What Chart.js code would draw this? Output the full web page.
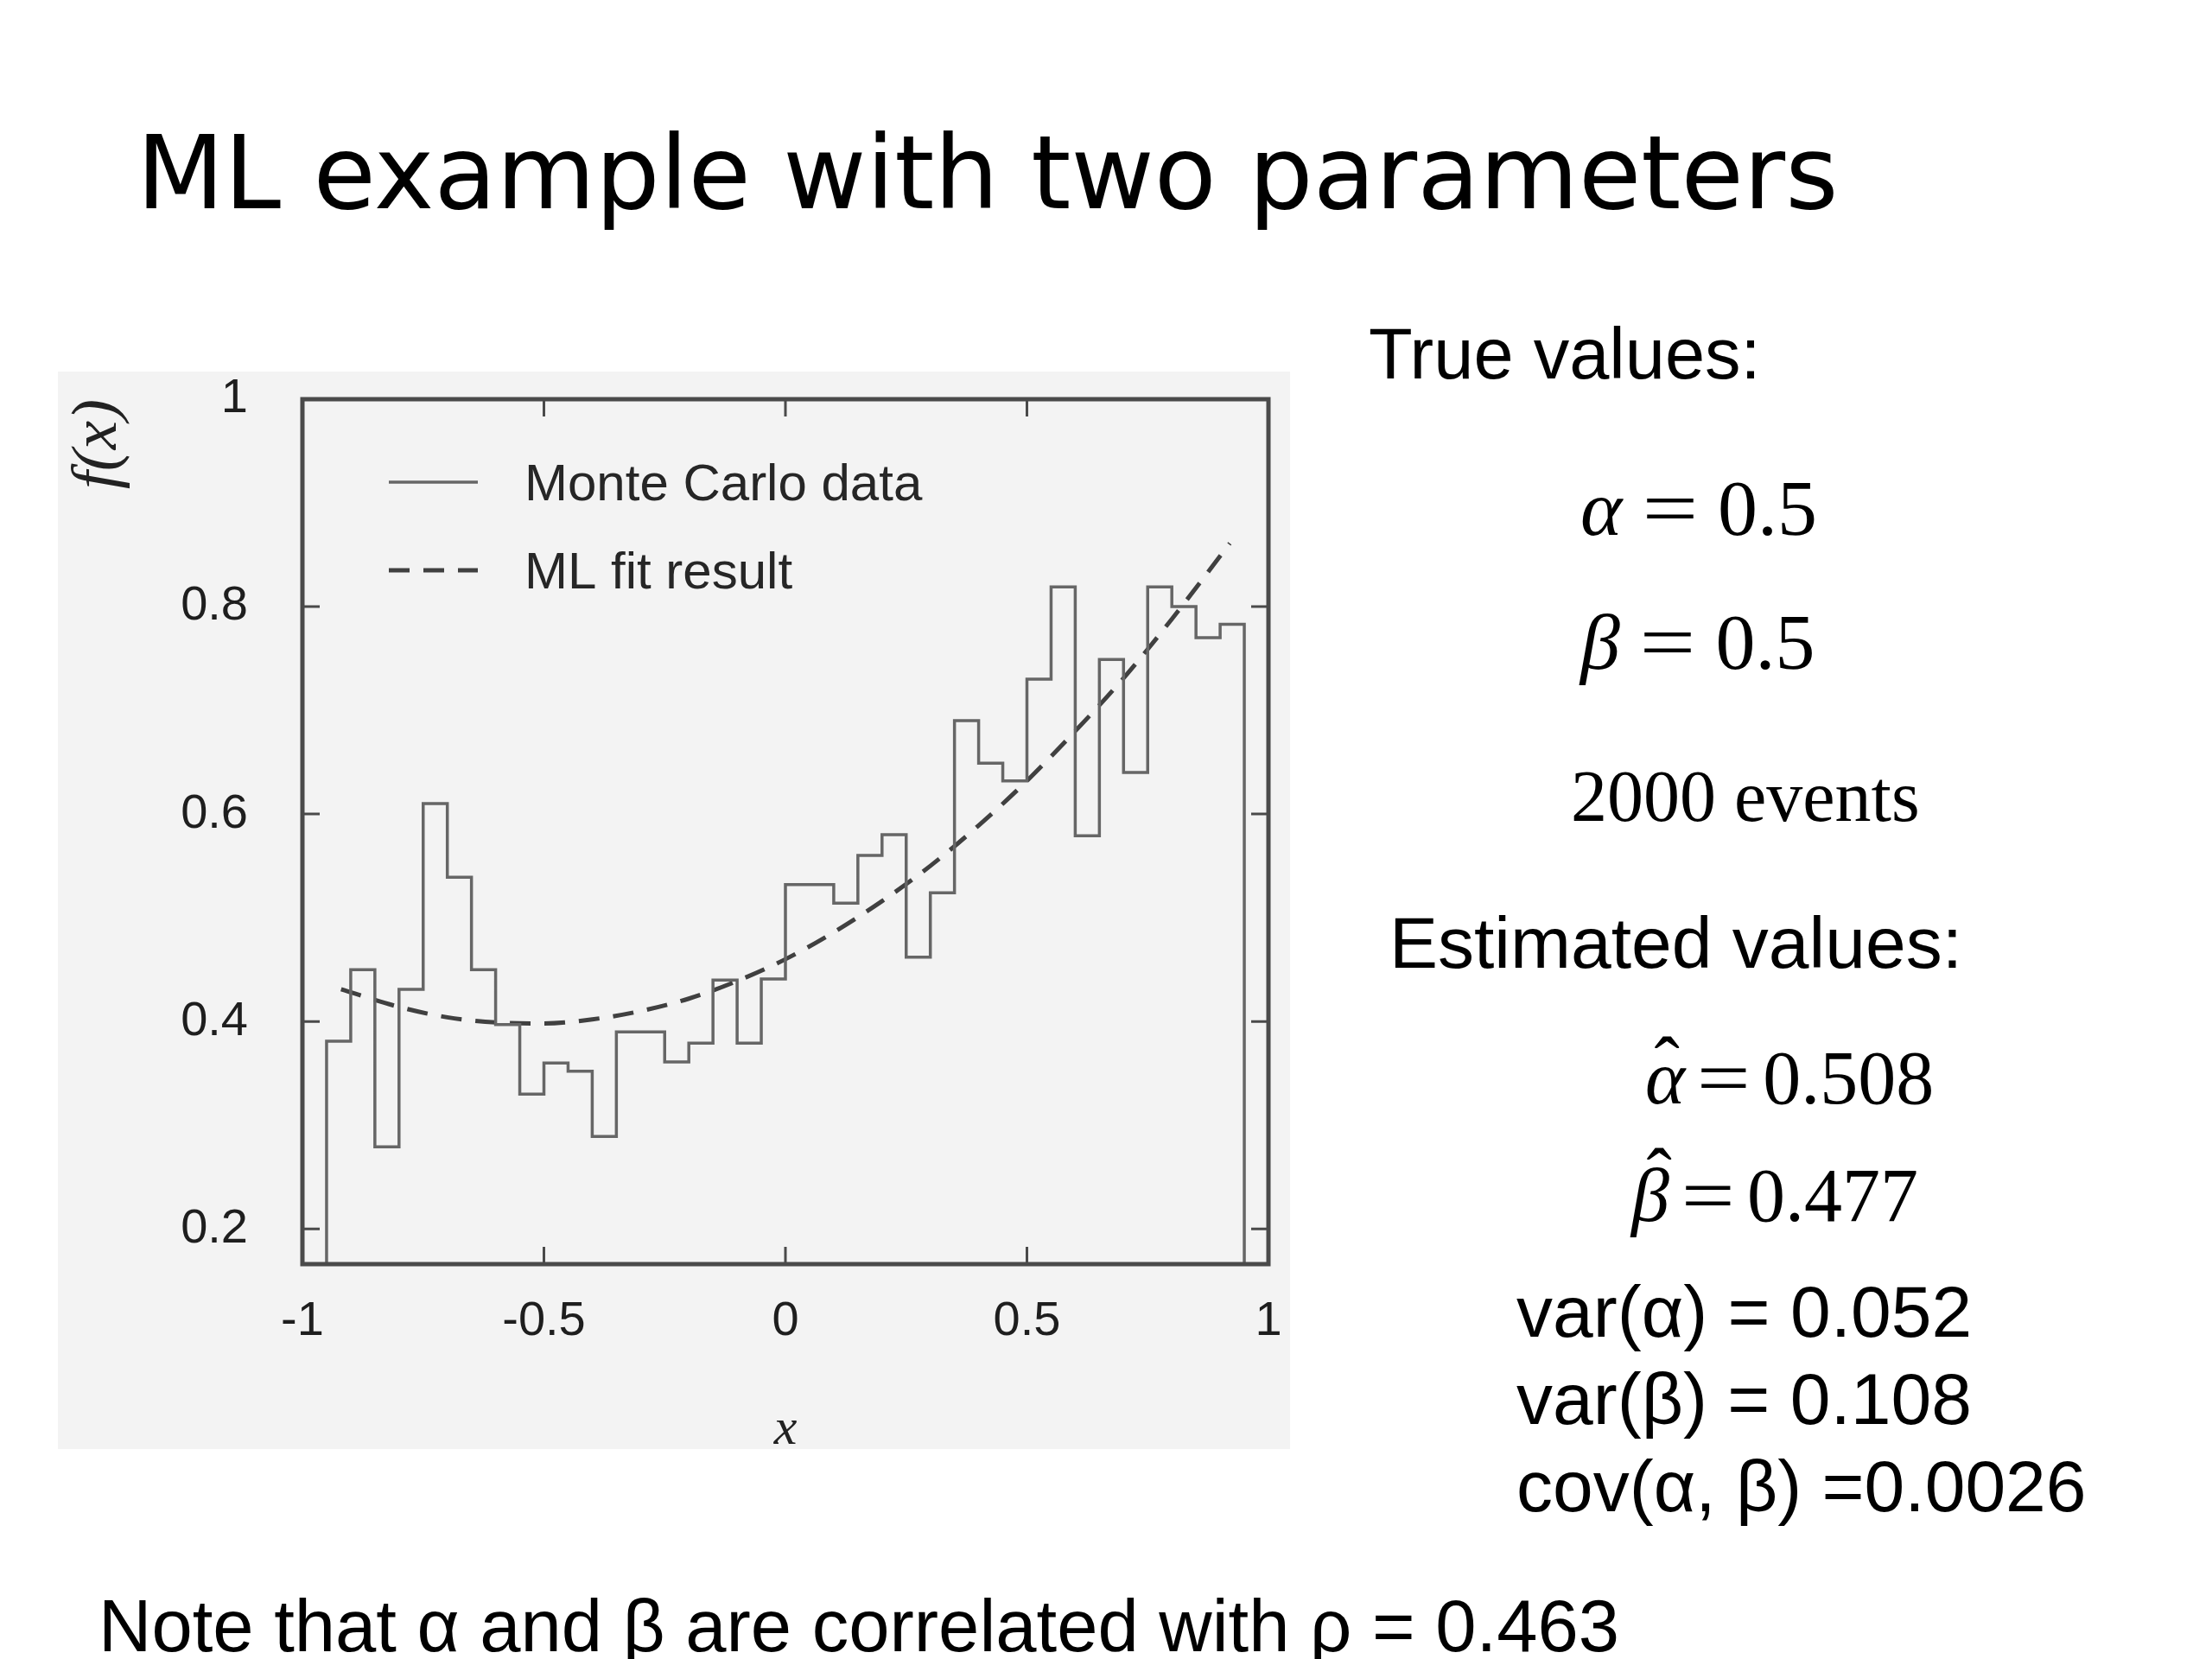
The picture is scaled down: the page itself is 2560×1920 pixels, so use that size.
<!DOCTYPE html>
<html>
<head>
<meta charset="utf-8">
<script src="https://cdn.jsdelivr.net/npm/chart.js@4.4.1/dist/chart.umd.min.js"></script>
<style>
  html, body { margin: 0; padding: 0; background: #fff; }
  body { width: 2560px; height: 1920px; position: relative; overflow: hidden; }
  .t { position: absolute; white-space: nowrap; line-height: 1; color: #000; }
  .sans { font-family: "Liberation Sans", Arial, sans-serif; font-size: 84px; }
  .serif { font-family: "Liberation Serif", "Times New Roman", serif; font-size: 88px; }
  .serif i { font-style: italic; }
  .eq { display: inline-block; transform: scaleX(1.25); margin: 0 0.23em; }
  .eq.wide { margin: 0 0.32em; }
  .hat { position: relative; display: inline-block; }
  .hat b { position: absolute; font-weight: normal; left: 0.12em; font-style: normal; }
  #title { font-family: "Comic Sans MS", "DejaVu Sans", sans-serif; left: 158px; top: 146px; font-size: 120px; }
  #box { position: absolute; left: 67px; top: 430px; width: 1426px; height: 1247px; background: #f3f3f3; }
</style>
</head>
<body>
<div class="t" id="title">ML example with two parameters</div>

<div id="box"><canvas id="mlChart" width="1426" height="1247"></canvas></div>

<div class="t sans" style="left:1584px; top:368px; font-size:83px;">True values:</div>
<div class="t serif" style="left:1829px; top:542px; font-size:92px;"><i>α</i><span class="eq wide">=</span>0.5</div>
<div class="t serif" style="left:1829px; top:697px; font-size:92px;"><i>β</i><span class="eq wide">=</span>0.5</div>
<div class="t serif" style="left:1818px; top:880px; font-size:84px;">2000 events</div>

<div class="t sans" style="left:1608px; top:1049px;">Estimated values:</div>
<div class="t serif" style="left:1904px; top:1204px;"><span class="hat"><i>α</i><b style="top:-0.17em">ˆ</b></span><span class="eq">=</span>0.508</div>
<div class="t serif" style="left:1888px; top:1340px;"><span class="hat"><i>β</i><b style="top:-0.25em; left:0.2em">ˆ</b></span><span class="eq">=</span>0.477</div>
<div class="t sans" style="left:1755px; top:1476px;">var(α) = 0.052</div>
<div class="t sans" style="left:1755px; top:1577px;">var(β) = 0.108</div>
<div class="t sans" style="left:1755px; top:1678px;">cov(α, β) =0.0026</div>

<div class="t sans" style="left:114px; top:1839px; font-size:85px;">Note that α and β are correlated with ρ = 0.463</div>

<script>
// fit the title to the width it has on the slide
var title = document.getElementById('title');
var titleSize = 120 * 1970 / title.offsetWidth;
title.style.fontSize = titleSize + 'px';
title.style.top = (242 - 0.846 * titleSize) + 'px';

// histogram: 38 bins of width 0.05 from -0.95 to 0.95
const binStart = -0.95;
const binWidth = 0.05;
const mcValues = [
  0.381, 0.450, 0.279, 0.431, 0.610, 0.539, 0.450, 0.397, 0.330, 0.360,
  0.352, 0.289, 0.390, 0.390, 0.361, 0.379, 0.440, 0.379, 0.441, 0.532,
  0.532, 0.514, 0.560, 0.580, 0.462, 0.524, 0.690, 0.649, 0.632, 0.730,
  0.819, 0.579, 0.749, 0.640, 0.819, 0.800, 0.770, 0.783
];

// ML fit curve
const fitX = [-0.92, -0.8, -0.7, -0.6, -0.5, -0.4, -0.3, -0.2, -0.1, 0,
              0.1, 0.2, 0.3, 0.4, 0.5, 0.6, 0.7, 0.8, 0.92];
const fitY = [0.431, 0.414, 0.404, 0.399, 0.398, 0.402, 0.410, 0.422, 0.439, 0.460,
              0.486, 0.516, 0.550, 0.589, 0.632, 0.680, 0.731, 0.788, 0.861];

const xTickValues = [-1, -0.5, 0, 0.5, 1];
const yTickValues = [0.2, 0.4, 0.6, 0.8, 1];
const yMin = 0.166;
const yMax = 1;

const frameColor = '#4a4a4a';

// outline of the histogram, dropping to the axis at both ends
var mcPoints = [{x: binStart, y: yMin}];
mcValues.forEach(function (v, i) {
  mcPoints.push({x: binStart + i * binWidth, y: v});
});
var binEnd = binStart + mcValues.length * binWidth;
mcPoints.push({x: binEnd, y: mcValues[mcValues.length - 1]});
mcPoints.push({x: binEnd, y: yMin});

var fitPoints = fitX.map(function (x, i) { return {x: x, y: fitY[i]}; });

// box frame, inward ticks on all four sides, and the legend inside the plot
const framePlugin = {
  id: 'frame',
  afterDatasetsDraw: function (chart) {
    var ctx = chart.ctx;
    var a = chart.chartArea;
    var xs = chart.scales.x, ys = chart.scales.y;
    ctx.save();
    ctx.strokeStyle = frameColor;
    ctx.lineWidth = 5;
    ctx.strokeRect(a.left, a.top, a.right - a.left, a.bottom - a.top);

    ctx.lineWidth = 3;
    ctx.beginPath();
    xTickValues.forEach(function (v) {
      if (v <= xs.min || v >= xs.max) return;
      var px = xs.getPixelForValue(v);
      ctx.moveTo(px, a.bottom); ctx.lineTo(px, a.bottom - 20);
      ctx.moveTo(px, a.top); ctx.lineTo(px, a.top + 20);
    });
    yTickValues.forEach(function (v) {
      if (v <= ys.min || v >= ys.max) return;
      var py = ys.getPixelForValue(v);
      ctx.moveTo(a.left, py); ctx.lineTo(a.left + 20, py);
      ctx.moveTo(a.right, py); ctx.lineTo(a.right - 20, py);
    });
    ctx.stroke();

    // legend
    ctx.font = '60px "Liberation Sans", Arial, sans-serif';
    ctx.fillStyle = '#262626';
    ctx.textBaseline = 'middle';
    chart.data.datasets.forEach(function (ds, i) {
      var ly = a.top + 96 + i * 102;
      ctx.strokeStyle = ds.borderColor;
      ctx.lineWidth = ds.borderWidth;
      ctx.setLineDash(ds.borderDash || []);
      ctx.beginPath();
      ctx.moveTo(a.left + 100, ly);
      ctx.lineTo(a.left + 203, ly);
      ctx.stroke();
      ctx.setLineDash([]);
      ctx.fillText(ds.label, a.left + 257, ly + 4);
    });
    ctx.restore();
  }
};

var tickFont = { family: '"Liberation Sans", Arial, sans-serif', size: 56 };

var ctx = document.getElementById('mlChart').getContext('2d');
var mlChart = new Chart(ctx, {
  type: 'line',
  data: {
    datasets: [
      {
        label: 'Monte Carlo data',
        data: mcPoints,
        borderColor: '#666666',
        borderWidth: 3.5,
        stepped: true,
        pointRadius: 0,
        fill: false
      },
      {
        label: 'ML fit result',
        data: fitPoints,
        borderColor: '#404040',
        borderWidth: 5,
        borderDash: [24, 16],
        cubicInterpolationMode: 'monotone',
        pointRadius: 0,
        fill: false
      }
    ]
  },
  options: {
    responsive: false,
    animation: false,
    events: [],
    layout: { padding: { left: 0, top: 32, right: 25, bottom: 0 } },
    plugins: {
      legend: { display: false },
      tooltip: { enabled: false }
    },
    scales: {
      x: {
        type: 'linear',
        min: -1,
        max: 1,
        afterBuildTicks: function (s) { s.ticks = xTickValues.map(function (v) { return {value: v}; }); },
        afterFit: function (s) { s.height = 214; s.paddingLeft = 0; s.paddingRight = 0; },
        grid: { display: false, drawTicks: false },
        border: { display: false },
        ticks: {
          autoSkip: false,
          maxRotation: 0,
          padding: 33,
          color: '#1e1e1e',
          font: tickFont,
          callback: function (v) { return String(v); }
        },
        title: {
          display: true,
          text: 'x',
          color: '#222',
          padding: { top: 0, bottom: -14 },
          font: { family: '"Liberation Serif", "Times New Roman", serif', size: 60, style: 'italic' }
        }
      },
      y: {
        min: yMin,
        max: yMax,
        afterBuildTicks: function (s) { s.ticks = yTickValues.map(function (v) { return {value: v}; }); },
        afterFit: function (s) { s.width = 283; s.paddingTop = 0; s.paddingBottom = 0; },
        grid: { display: false, drawTicks: false },
        border: { display: false },
        ticks: {
          padding: 63,
          color: '#1e1e1e',
          font: tickFont,
          callback: function (v) { return String(v); }
        },
        title: {
          display: true,
          text: 'f(x)',
          align: 'end',
          color: '#222',
          padding: { top: 2, bottom: 0 },
          font: { family: '"Liberation Serif", "Times New Roman", serif', size: 75, style: 'italic' }
        }
      }
    }
  },
  plugins: [framePlugin]
});
</script>
</body>
</html>
